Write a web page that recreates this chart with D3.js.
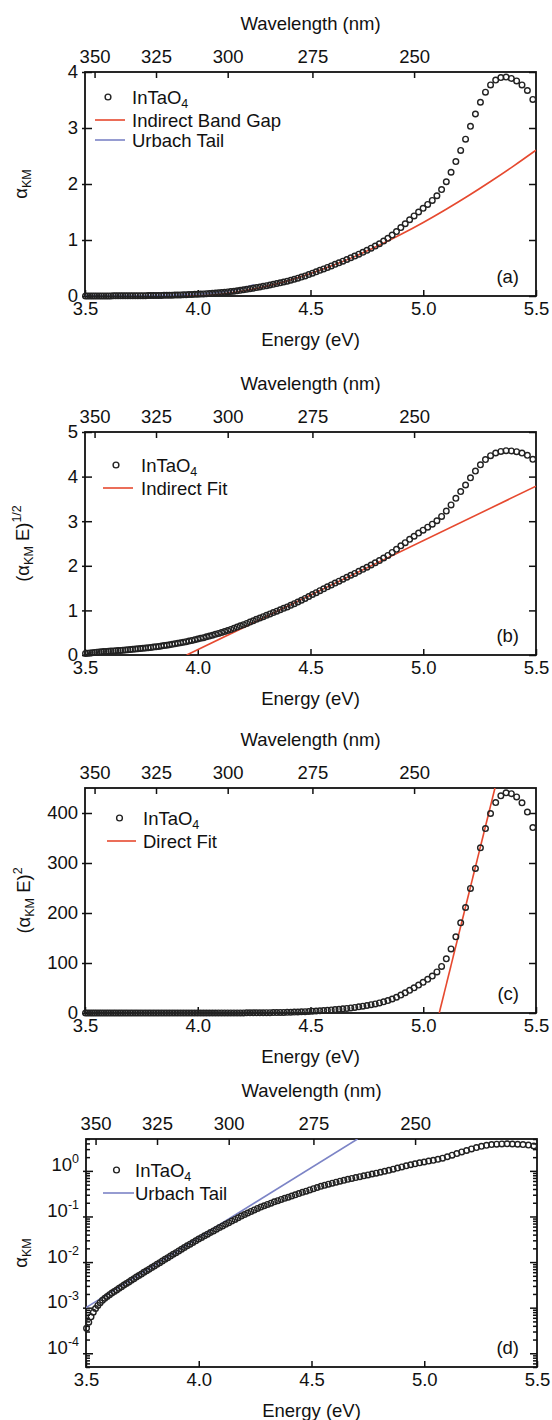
<!DOCTYPE html>
<html>
<head>
<meta charset="utf-8">
<script src="https://cdn.jsdelivr.net/npm/d3@7"></script>
<style>
  html, body { margin: 0; padding: 0; background: #fff; }
  svg text { font-family: "Liberation Sans", Arial, Helvetica, sans-serif; fill: #111; }
</style>
</head>
<body>
<div id="chart"></div>
<script>
"use strict";

var HC = 1239.84; // eV * nm

// measured spectrum, one point per nm
var waveNm = [
	354, 353, 352, 351, 350, 349, 348, 347, 346, 345,
	344, 343, 342, 341, 340, 339, 338, 337, 336, 335,
	334, 333, 332, 331, 330, 329, 328, 327, 326, 325,
	324, 323, 322, 321, 320, 319, 318, 317, 316, 315,
	314, 313, 312, 311, 310, 309, 308, 307, 306, 305,
	304, 303, 302, 301, 300, 299, 298, 297, 296, 295,
	294, 293, 292, 291, 290, 289, 288, 287, 286, 285,
	284, 283, 282, 281, 280, 279, 278, 277, 276, 275,
	274, 273, 272, 271, 270, 269, 268, 267, 266, 265,
	264, 263, 262, 261, 260, 259, 258, 257, 256, 255,
	254, 253, 252, 251, 250, 249, 248, 247, 246, 245,
	244, 243, 242, 241, 240, 239, 238, 237, 236, 235,
	234, 233, 232, 231, 230, 229, 228, 227, 226
];
var alphaKM = [
	0.000355, 0.000479, 0.000631, 0.000794, 0.000955, 0.00112, 0.00129, 0.00145, 0.00160, 0.00176,
	0.00193, 0.00209, 0.00226, 0.00245, 0.00266, 0.00288, 0.00313, 0.00339, 0.00367, 0.00398,
	0.00432, 0.00468, 0.00507, 0.00550, 0.00596, 0.00646, 0.00700, 0.00759, 0.00822, 0.00891,
	0.00970, 0.0106, 0.0115, 0.0125, 0.0136, 0.0148, 0.0161, 0.0176, 0.0191, 0.0208,
	0.0227, 0.0247, 0.0269, 0.0293, 0.0319, 0.0347, 0.0377, 0.0409, 0.0445, 0.0483,
	0.0525, 0.0570, 0.0619, 0.0673, 0.0731, 0.0794, 0.0863, 0.0938, 0.102, 0.110,
	0.119, 0.129, 0.139, 0.150, 0.161, 0.172, 0.184, 0.196, 0.209, 0.222,
	0.236, 0.250, 0.264, 0.281, 0.299, 0.318, 0.338, 0.359, 0.383, 0.408,
	0.432, 0.458, 0.483, 0.510, 0.537, 0.565, 0.593, 0.622, 0.652, 0.683,
	0.713, 0.746, 0.780, 0.815, 0.854, 0.892, 0.933, 0.980, 1.030, 1.088,
	1.150, 1.222, 1.290, 1.362, 1.430, 1.500, 1.566, 1.636, 1.706, 1.790,
	1.900, 2.040, 2.210, 2.400, 2.600, 2.800, 3.030, 3.250, 3.460, 3.640,
	3.770, 3.855, 3.900, 3.910, 3.885, 3.840, 3.770, 3.670, 3.510
];

// fits
var bandGapCurveE = [3.951, 4.0, 4.1, 4.2, 4.3, 4.4, 4.5, 4.6, 4.7, 4.8, 4.9, 5.0, 5.1, 5.2, 5.3, 5.4, 5.5];
var bandGapCurveA = [0, 0.004, 0.032, 0.088, 0.169, 0.273, 0.400, 0.547, 0.712, 0.896, 1.097, 1.313, 1.545, 1.790, 2.049, 2.320, 2.604];
var urbachCurveE = [3.5, 3.6, 3.7, 3.8, 3.9, 4.0, 4.05, 4.1, 4.15, 4.2, 4.25];
var urbachCurveA = [0.0010, 0.0020, 0.0041, 0.0084, 0.0169, 0.0344, 0.049, 0.0698, 0.0994, 0.1416, 0.2017];
var indirectFitE = [3.951, 5.5];
var indirectFitY = [0, 3.785];
var directFitE = [5.071, 5.318];
var directFitY = [0, 450];
var urbachLineE = [3.5, 4.704];
var urbachLineA = [0.001, 5.0];

// ticks
var energyTicks = [3.5, 4.0, 4.5, 5.0, 5.5];
var waveTicks = [350, 325, 300, 275, 250];
var yTicksA = [0, 1, 2, 3, 4];
var yTicksB = [0, 1, 2, 3, 4, 5];
var yTicksC = [0, 100, 200, 300, 400];
var yTicksD = [1e-4, 1e-3, 1e-2, 1e-1, 1];

var RED = "#e6492f", BLUE = "#7c84c6";
var FS = 18.5;

var points = waveNm.map(function (l, i) {
	return { e: HC / l, a: alphaKM[i] };
});
function zip(xs, ys) {
	return xs.map(function (v, i) { return { e: v, v: ys[i] }; });
}

var svg = d3.select("#chart").append("svg")
	.attr("width", 552).attr("height", 1420)
	.attr("font-size", FS);

var panels = [
	{
		tag: "(a)", top: 72, bottom: 296, left: 85, right: 536, domain: [0, 4], yTicks: yTicksA,
		value: function (d) { return d.a; },
		yTitle: [{ t: "α" }, { t: "KM", sub: true }], yTitleX: 27,
		fits: [
			{ pts: zip(bandGapCurveE, bandGapCurveA), color: RED },
			{ pts: zip(urbachCurveE, urbachCurveA), color: BLUE }
		],
		legend: { x: 95, len: 30, tx: 132, rows: [97, 120, 140] },
		legendItems: [{ label: "InTaO", sub: "4" }, { label: "Indirect Band Gap", color: RED }, { label: "Urbach Tail", color: BLUE }]
	},
	{
		tag: "(b)", top: 432, bottom: 655, left: 85, right: 536, domain: [0, 5], yTicks: yTicksB,
		value: function (d) { return Math.sqrt(d.a * d.e); },
		yTitle: [{ t: "(α" }, { t: "KM", sub: true }, { t: " E)" }, { t: "1/2", sup: true }], yTitleX: 29,
		fits: [{ pts: zip(indirectFitE, indirectFitY), color: RED }],
		legend: { x: 103, len: 30, tx: 141, rows: [465, 488] },
		legendItems: [{ label: "InTaO", sub: "4" }, { label: "Indirect Fit", color: RED }]
	},
	{
		tag: "(c)", top: 788, bottom: 1013, left: 85, right: 536, domain: [0, 450], yTicks: yTicksC,
		value: function (d) { return Math.pow(d.a * d.e, 2); },
		yTitle: [{ t: "(α" }, { t: "KM", sub: true }, { t: " E)" }, { t: "2", sup: true }], yTitleX: 30,
		fits: [{ pts: zip(directFitE, directFitY), color: RED }],
		legend: { x: 107, len: 29, tx: 143, rows: [818, 841] },
		legendItems: [{ label: "InTaO", sub: "4" }, { label: "Direct Fit", color: RED }]
	},
	{
		tag: "(d)", top: 1139, bottom: 1367, left: 86, right: 537, domain: [5e-5, 5], yTicks: yTicksD, log: true,
		value: function (d) { return d.a; },
		yTitle: [{ t: "α" }, { t: "KM", sub: true }], yTitleX: 27,
		fits: [{ pts: zip(urbachLineE, urbachLineA), color: BLUE }],
		legend: { x: 103, len: 31, tx: 135, rows: [1170, 1193] },
		legendItems: [{ label: "InTaO", sub: "4" }, { label: "Urbach Tail", color: BLUE }]
	}
];

// text with sub/superscript pieces
function richText(sel, parts) {
	var shift = 0;
	parts.forEach(function (p) {
		var target = p.sub ? 4 : (p.sup ? -8 : 0);
		sel.append("tspan")
			.attr("dy", target - shift)
			.attr("font-size", (p.sub || p.sup) ? 12.5 : FS)
			.text(p.t);
		shift = target;
	});
}

function styleAxis(g) {
	g.attr("font-size", null).attr("font-family", null).attr("color", "#111");
	g.select(".domain").remove();
	g.selectAll(".tick line").attr("stroke-width", 1.5);
}

function drawPanel(p, idx) {
	var g = svg.append("g");
	var x = d3.scaleLinear().domain([3.5, 5.5]).range([p.left, p.right]);
	var y = (p.log ? d3.scaleLog() : d3.scaleLinear()).domain(p.domain).range([p.bottom, p.top]);

	g.append("clipPath").attr("id", "clip" + idx)
		.append("rect").attr("x", p.left).attr("y", p.top)
		.attr("width", p.right - p.left).attr("height", p.bottom - p.top);

	// bottom energy axis
	g.append("g").attr("transform", "translate(0," + p.bottom + ")")
		.call(d3.axisBottom(x).tickValues(energyTicks).tickFormat(d3.format(".1f"))
			.tickSizeInner(-6).tickSizeOuter(0).tickPadding(6))
		.call(styleAxis);

	// top wavelength axis
	g.append("g").attr("transform", "translate(0," + p.top + ")")
		.call(d3.axisTop(x).tickValues(waveTicks.map(function (l) { return HC / l; }))
			.tickFormat(function (d, i) { return waveTicks[i]; })
			.tickSizeInner(-6).tickSizeOuter(0).tickPadding(9))
		.call(styleAxis);

	// left axis
	var left = g.append("g").attr("transform", "translate(" + p.left + ",0)")
		.call(d3.axisLeft(y).tickValues(p.yTicks)
			.tickFormat(p.log ? function () { return ""; } : d3.format("d"))
			.tickSizeInner(-7).tickSizeOuter(0).tickPadding(7))
		.call(styleAxis);
	left.selectAll(".tick line").attr("x1", -3);
	if (p.log) {
		left.selectAll(".tick text").each(function (d) {
			richText(d3.select(this), [{ t: "10" }, { t: String(Math.round(Math.log10(d))), sup: true }]);
		});
	}

	// right axis
	g.append("g").attr("transform", "translate(" + p.right + ",0)")
		.call(d3.axisRight(y).tickValues(p.yTicks).tickFormat("")
			.tickSizeInner(-7).tickSizeOuter(0))
		.call(styleAxis);

	if (p.log) {
		var minor = y.ticks().filter(function (v) {
			return Math.abs(Math.log10(v) - Math.round(Math.log10(v))) > 1e-6;
		});
		g.append("g").attr("transform", "translate(" + p.left + ",0)")
			.call(d3.axisLeft(y).tickValues(minor).tickFormat("").tickSizeInner(-4).tickSizeOuter(0))
			.call(styleAxis);
		g.append("g").attr("transform", "translate(" + p.right + ",0)")
			.call(d3.axisRight(y).tickValues(minor).tickFormat("").tickSizeInner(-4).tickSizeOuter(0))
			.call(styleAxis);
	}

	// frame
	g.append("rect").attr("x", p.left).attr("y", p.top)
		.attr("width", p.right - p.left).attr("height", p.bottom - p.top)
		.attr("fill", "none").attr("stroke", "#111").attr("stroke-width", 1.8);

	// axis titles
	g.append("text").attr("x", (p.left + p.right) / 2).attr("y", p.top - 42)
		.attr("text-anchor", "middle").text("Wavelength (nm)");
	g.append("text").attr("x", (p.left + p.right) / 2).attr("y", p.bottom + 50)
		.attr("text-anchor", "middle").text("Energy (eV)");
	g.append("text")
		.attr("transform", "translate(" + p.yTitleX + "," + (p.top + p.bottom) / 2 + ") rotate(-90)")
		.attr("text-anchor", "middle")
		.call(richText, p.yTitle);

	// fit lines
	var line = d3.line()
		.x(function (d) { return x(d.e); })
		.y(function (d) { return y(d.v); })
		.curve(d3.curveMonotoneX);
	g.append("g").attr("clip-path", "url(#clip" + idx + ")")
		.selectAll("path").data(p.fits).join("path")
		.attr("d", function (f) { return line(f.pts); })
		.attr("fill", "none")
		.attr("stroke", function (f) { return f.color; })
		.attr("stroke-width", 1.6);

	// data
	g.append("g").selectAll("circle").data(points).join("circle")
		.attr("cx", function (d) { return x(d.e); })
		.attr("cy", function (d) { return y(p.value(d)); })
		.attr("r", 2.8)
		.attr("fill", "none")
		.attr("stroke", "#222")
		.attr("stroke-width", 1.4);

	// legend
	var lg = g.append("g");
	p.legendItems.forEach(function (item, i) {
		var ry = p.legend.rows[i];
		if (item.color) {
			lg.append("line").attr("x1", p.legend.x).attr("x2", p.legend.x + p.legend.len)
				.attr("y1", ry).attr("y2", ry)
				.attr("stroke", item.color).attr("stroke-width", 1.6);
		} else {
			lg.append("circle").attr("cx", p.legend.x + p.legend.len / 2 - 2).attr("cy", ry)
				.attr("r", 2.9).attr("fill", "none").attr("stroke", "#222").attr("stroke-width", 1.4);
		}
		var t = lg.append("text").attr("x", p.legend.tx).attr("y", ry + 6.5);
		var parts = [{ t: item.label }];
		if (item.sub) parts.push({ t: item.sub, sub: true });
		richText(t, parts);
	});

	// panel tag
	g.append("text").attr("x", 519).attr("y", (p.bottom - 13))
		.attr("text-anchor", "end").text(p.tag);
}

panels.forEach(drawPanel);
</script>
</body>
</html>
